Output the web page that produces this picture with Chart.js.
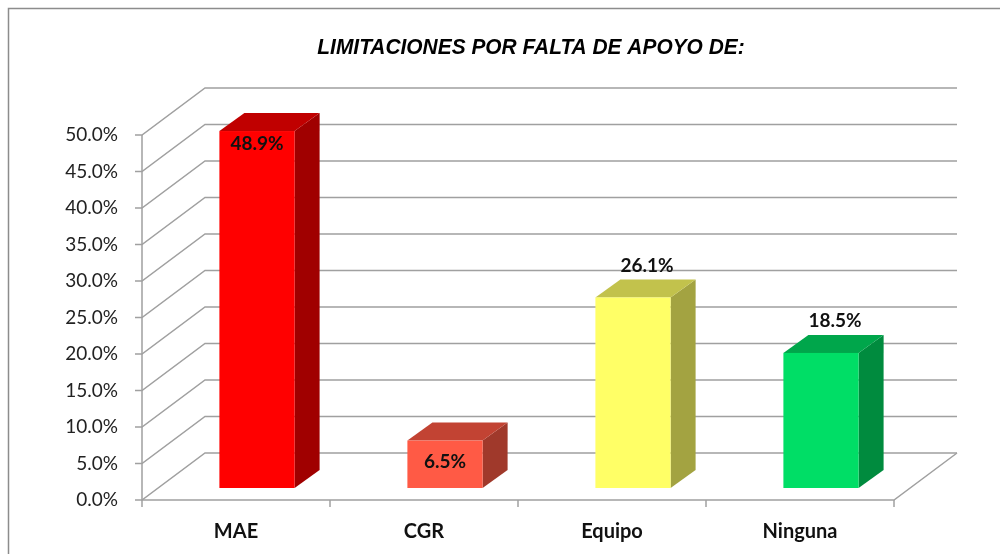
<!DOCTYPE html>
<html>
<head>
<meta charset="utf-8">
<script src="https://cdn.jsdelivr.net/npm/chart.js@4"></script>
<style>
  html, body { margin: 0; padding: 0; background: #fff; }
  canvas { display: block; }
</style>
</head>
<body>
<canvas id="limitChart" width="1000" height="554"></canvas>
<script>
const categories = ['MAE', 'CGR', 'Equipo', 'Ninguna'];
const shares = [48.9, 6.5, 26.1, 18.5];
const yMax = 50;
const yStep = 5;
const chartTitle = 'LIMITACIONES POR FALTA DE APOYO DE:';

// face colours of each 3D bar
const frontColors = ['#ff0000', '#ff5a45', '#ffff66', '#00de66'];
const sideColors = ['#a00000', '#a0392b', '#a3a341', '#008b3e'];
const topColors = ['#c00000', '#c24333', '#c2c24c', '#00a64b'];

// fake perspective offsets
const WALL = { dx: 63, dy: -47 };
const BAR_SHIFT = { dx: 21, dy: -12 };
const BAR_DEPTH = { dx: 25, dy: -18 };
const GRID = '#a0a0a0';

const fontMain = 'Lato, "Open Sans", sans-serif';

function poly(ctx, pts, color) {
    ctx.beginPath();
    ctx.moveTo(pts[0][0], pts[0][1]);
    pts.slice(1).forEach(p => ctx.lineTo(p[0], p[1]));
    ctx.closePath();
    ctx.fillStyle = color;
    ctx.fill();
}

const box3d = {
    id: 'box3d',
    beforeDraw(chart) {
        const ctx = chart.ctx;
        ctx.save();
        ctx.fillStyle = '#fff';
        ctx.fillRect(0, 0, chart.width, chart.height);
        // outer frame (cut off on right and bottom)
        ctx.strokeStyle = '#8c8c8c';
        ctx.lineWidth = 1.5;
        ctx.beginPath();
        ctx.moveTo(8.5, chart.height);
        ctx.lineTo(8.5, 8.5);
        ctx.lineTo(chart.width, 8.5);
        ctx.stroke();
        // title, squeezed a little to look like the narrow original
        ctx.fillStyle = '#000';
        ctx.font = 'italic bold 22px "Liberation Sans", sans-serif';
        ctx.textAlign = 'center';
        ctx.textBaseline = 'middle';
        ctx.translate(531, 48);
        ctx.scale(0.95, 1);
        ctx.fillText(chartTitle, 0, 0);
        ctx.restore();
    },
    beforeDatasetsDraw(chart) {
        const { ctx, chartArea: a, scales: { x, y } } = chart;
        ctx.save();
        ctx.strokeStyle = GRID;
        ctx.lineWidth = 1.5;
        // side wall diagonals + back wall lines
        y.ticks.forEach(t => {
            const py = y.getPixelForValue(t.value);
            ctx.beginPath();
            ctx.moveTo(a.left - 7, py);
            ctx.lineTo(a.left, py);
            ctx.lineTo(a.left + WALL.dx, py + WALL.dy);
            ctx.lineTo(a.right + WALL.dx, py + WALL.dy);
            ctx.stroke();
        });
        // front axis + floor
        ctx.beginPath();
        ctx.moveTo(a.left, a.top);
        ctx.lineTo(a.left, a.bottom);
        ctx.lineTo(a.right, a.bottom);
        ctx.lineTo(a.right + WALL.dx, a.bottom + WALL.dy);
        ctx.stroke();
        // category tick marks
        const half = (x.getPixelForValue(1) - x.getPixelForValue(0)) / 2;
        for (let i = 0; i <= categories.length; i++) {
            const px = i < categories.length ? x.getPixelForValue(i) - half : x.getPixelForValue(i - 1) + half;
            ctx.beginPath();
            ctx.moveTo(px, a.bottom);
            ctx.lineTo(px, a.bottom + 7);
            ctx.stroke();
        }
        ctx.restore();
    },
    afterDatasetsDraw(chart) {
        const ctx = chart.ctx;
        const meta = chart.getDatasetMeta(0);
        ctx.save();
        meta.data.forEach((bar, i) => {
            const w = bar.width;
            const x0 = bar.x - w / 2 + BAR_SHIFT.dx, x1 = x0 + w;
            const yt = bar.y + BAR_SHIFT.dy, yb = bar.base + BAR_SHIFT.dy;
            const dx = BAR_DEPTH.dx, dy = BAR_DEPTH.dy;
            poly(ctx, [[x1, yt], [x1 + dx, yt + dy], [x1 + dx, yb + dy], [x1, yb]], sideColors[i]);
            poly(ctx, [[x0, yt], [x0 + dx, yt + dy], [x1 + dx, yt + dy], [x1, yt]], topColors[i]);
            ctx.fillStyle = frontColors[i];
            ctx.fillRect(x0, yt, w, yb - yt);

            // value label
            const v = shares[i];
            let lx = x0 + w / 2, ly;
            if (v > 45) ly = yt + 13;
            else if (v < 10) ly = (yt + yb) / 2 - 2;
            else { lx += 14; ly = yt + dy - 14; }
            ctx.fillStyle = '#111';
            ctx.font = 'bold 19px ' + fontMain;
            ctx.textAlign = 'center';
            ctx.textBaseline = 'middle';
            ctx.fillText(v.toFixed(1) + '%', lx, ly);
        });
        ctx.restore();
    }
};

new Chart(document.getElementById('limitChart'), {
    type: 'bar',
    data: {
        labels: categories,
        datasets: [{
            data: shares,
            backgroundColor: 'rgba(0,0,0,0)',
            borderWidth: 0,
            barPercentage: 0.4,
            categoryPercentage: 1
        }]
    },
    options: {
        responsive: false,
        animation: false,
        devicePixelRatio: 1,
        layout: { padding: { top: 135, right: 106, bottom: 0, left: 0 } },
        plugins: {
            legend: { display: false },
            title: { display: false },
            tooltip: { enabled: false }
        },
        scales: {
            x: {
                grid: { display: false, drawTicks: false },
                border: { display: false },
                ticks: {
                    padding: 20,
                    color: '#111',
                    font: { family: fontMain, size: 20, weight: 'bold' }
                },
                afterFit: s => { s.height = 54; }
            },
            y: {
                min: 0,
                max: yMax,
                grid: { display: false, drawTicks: false },
                border: { display: false },
                ticks: {
                    stepSize: yStep,
                    padding: 24,
                    color: '#222',
                    font: { family: fontMain, size: 19 },
                    callback: v => v.toFixed(1) + '%'
                },
                afterFit: s => { s.width = 142; }
            }
        }
    },
    plugins: [box3d]
});
</script>
</body>
</html>
